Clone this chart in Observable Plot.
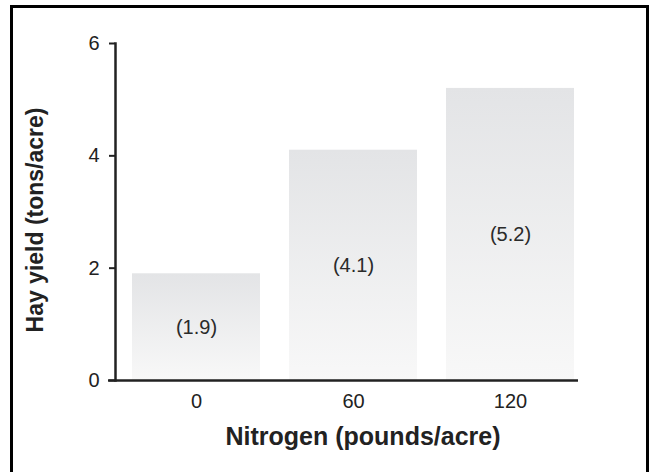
<!DOCTYPE html>
<html>
<head>
<meta charset="utf-8">
<script src="https://cdn.jsdelivr.net/npm/d3@7"></script>
<script src="https://cdn.jsdelivr.net/npm/@observablehq/plot@0.6"></script>
<style>
  html, body { margin: 0; padding: 0; background: #fff; }
  #wrap { position: relative; width: 650px; height: 472px; overflow: hidden; }
  #border { position: absolute; left: 10px; top: 5px; width: 639px; height: 500px; border: 3px solid #000; box-sizing: border-box; pointer-events: none; z-index: 2; }
  svg { font-family: "Liberation Sans", Arial, sans-serif; }
</style>
</head>
<body>
<div id="wrap"><div id="border"></div></div>
<script>
const nitrogen = ["0", "60", "120"];
const yieldTons = [1.9, 4.1, 5.2];
const yTicks = [0, 2, 4, 6];
const xTitle = "Nitrogen (pounds/acre)";
const yTitle = "Hay yield (tons/acre)";

const data = nitrogen.map((n, i) => ({n, v: yieldTons[i]}));
const ink = "#222";

const chart = Plot.plot({
  width: 650,
  height: 472,
  marginTop: 43,
  marginBottom: 92,
  marginLeft: 115,
  marginRight: 72,
  style: {fontFamily: "Liberation Sans, Arial, sans-serif", color: ink, background: "transparent"},
  x: {domain: nitrogen, paddingInner: 0.187, paddingOuter: 0.063, align: 0.8},
  y: {domain: [0, 6]},
  marks: [
    Plot.barY(data, {x: "n", y: "v", fill: "url(#barGrad)"}),
    Plot.text(data, {x: "n", y: d => d.v / 2, text: d => `(${d.v.toFixed(1)})`, fontSize: 20, fill: "#2a2a2a"}),
    Plot.axisY({ticks: yTicks, tickFormat: d => String(d), tickSize: 6, tickPadding: 10, fontSize: 20, label: null, stroke: ink, strokeWidth: 2, fill: ink}),
    Plot.axisX({tickSize: 0, tickPadding: 13, fontSize: 20, label: null, fill: ink}),
    Plot.frame({anchor: "left", stroke: ink, strokeWidth: 2.5}),
    Plot.ruleY([0], {insetLeft: -7, stroke: ink, strokeWidth: 2.5}),
    Plot.text([xTitle], {frameAnchor: "bottom", textAnchor: "middle", lineAnchor: "middle", dy: 56, dx: 16, fontWeight: "bold", fontSize: 25, fill: ink}),
    Plot.text([yTitle], {frameAnchor: "left", textAnchor: "middle", lineAnchor: "middle", rotate: -90, dx: -80, dy: 8, fontWeight: "bold", fontSize: 23, fill: ink})
  ]
});

const ns = "http://www.w3.org/2000/svg";
const defs = document.createElementNS(ns, "defs");
defs.innerHTML = `<linearGradient id="barGrad" x1="0" y1="0" x2="0" y2="1">
  <stop offset="0" stop-color="#e3e4e6"/>
  <stop offset="1" stop-color="#f8f8f8"/>
</linearGradient>`;
chart.insertBefore(defs, chart.firstChild);
chart.style.position = "absolute";
chart.style.left = "0";
chart.style.top = "0";
document.getElementById("wrap").appendChild(chart);
</script>
</body>
</html>
